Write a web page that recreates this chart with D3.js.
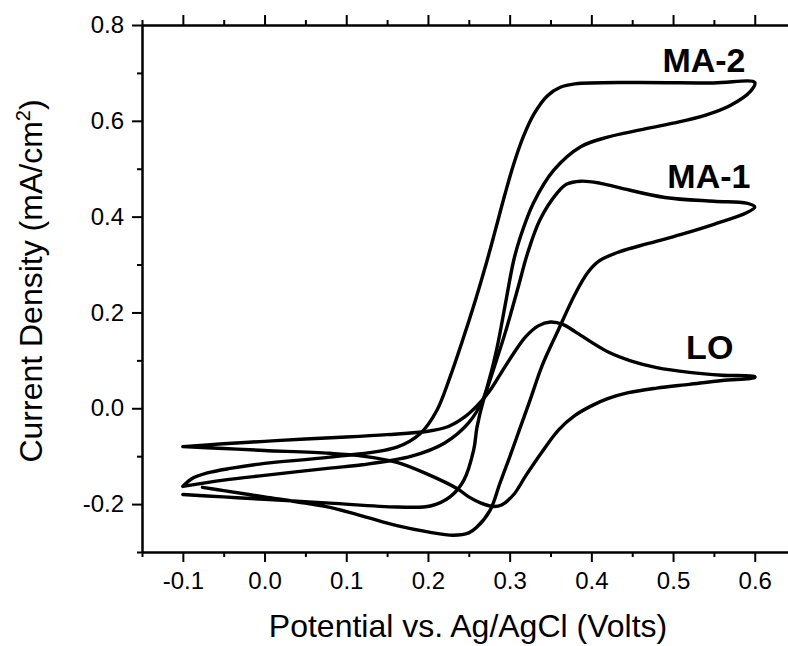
<!DOCTYPE html>
<html>
<head>
<meta charset="utf-8">
<script src="https://cdn.jsdelivr.net/npm/d3@7"></script>
<style>
  html, body { margin: 0; padding: 0; background: #fff; }
  svg { display: block; font-family: "Liberation Sans", Arial, sans-serif; }
</style>
</head>
<body>
<svg id="chart" width="788" height="646"></svg>
<script>
// Cyclic voltammograms: potential (V) vs current density (mA/cm2)
const xMajor = [-0.1, 0.0, 0.1, 0.2, 0.3, 0.4, 0.5, 0.6];
const xMinor = [-0.15, -0.05, 0.05, 0.15, 0.25, 0.35, 0.45, 0.55, 0.65];
const yMajor = [-0.2, 0.0, 0.2, 0.4, 0.6, 0.8];
const yMinor = [-0.3, -0.1, 0.1, 0.3, 0.5, 0.7];

const seriesNames = ["LO", "MA-1", "MA-2"];

// LO loop
const loData = [
  [-0.1, -0.08], [-0.05, -0.074], [0.0, -0.069], [0.05, -0.064], [0.1, -0.06],
  [0.15, -0.055], [0.2, -0.048], [0.225, -0.038], [0.245, -0.018], [0.26, 0.005],
  [0.275, 0.035], [0.29, 0.075], [0.305, 0.115], [0.32, 0.15], [0.335, 0.172],
  [0.35, 0.18], [0.365, 0.175], [0.38, 0.16], [0.4, 0.138], [0.42, 0.118],
  [0.45, 0.098], [0.48, 0.085], [0.52, 0.075], [0.56, 0.069], [0.6, 0.066],
  [0.6, 0.064], [0.56, 0.058], [0.52, 0.05], [0.48, 0.042], [0.444, 0.032],
  [0.42, 0.02], [0.4, 0.005], [0.38, -0.015], [0.36, -0.045], [0.34, -0.09],
  [0.32, -0.14], [0.305, -0.18], [0.29, -0.202], [0.28, -0.205], [0.265, -0.198],
  [0.25, -0.185], [0.236, -0.168], [0.2, -0.138], [0.162, -0.113], [0.12, -0.1],
  [0.08, -0.094], [0.0, -0.088], [-0.05, -0.084], [-0.1, -0.08]
];

// MA-1 loop
const ma1Data = [
  [-0.076, -0.165], [-0.05, -0.172], [0.0, -0.185], [0.05, -0.198], [0.08, -0.207],
  [0.12, -0.225], [0.162, -0.245], [0.2, -0.258], [0.231, -0.265], [0.25, -0.26],
  [0.26, -0.248], [0.276, -0.213], [0.288, -0.157], [0.3, -0.102], [0.313, -0.04],
  [0.325, 0.017], [0.34, 0.09], [0.36, 0.165], [0.38, 0.238], [0.395, 0.282],
  [0.41, 0.308], [0.435, 0.327], [0.47, 0.344], [0.51, 0.363], [0.55, 0.384],
  [0.59, 0.408], [0.6, 0.42], [0.59, 0.428], [0.55, 0.432], [0.49, 0.44],
  [0.435, 0.46], [0.41, 0.47], [0.387, 0.474], [0.37, 0.468], [0.358, 0.449],
  [0.337, 0.393], [0.322, 0.324], [0.31, 0.25], [0.295, 0.16], [0.28, 0.08],
  [0.268, 0.017], [0.26, -0.04], [0.256, -0.087], [0.244, -0.15], [0.227, -0.185],
  [0.203, -0.204], [0.162, -0.206], [0.08, -0.198], [0.0, -0.19], [-0.05, -0.185],
  [-0.1, -0.18]
];

// MA-2 loop
const ma2Data = [
  [-0.1, -0.163], [-0.09, -0.148], [-0.07, -0.135], [-0.04, -0.125], [0.0, -0.115],
  [0.08, -0.102], [0.162, -0.081], [0.191, -0.052], [0.211, -0.004], [0.227, 0.065],
  [0.243, 0.145], [0.258, 0.225], [0.271, 0.3], [0.283, 0.375], [0.294, 0.445],
  [0.305, 0.51], [0.317, 0.568], [0.33, 0.615], [0.346, 0.652], [0.362, 0.67],
  [0.38, 0.677], [0.45, 0.68], [0.55, 0.679], [0.6, 0.68], [0.595, 0.662],
  [0.57, 0.632], [0.54, 0.612], [0.5, 0.595], [0.46, 0.581], [0.42, 0.566],
  [0.387, 0.546], [0.354, 0.497], [0.329, 0.428], [0.313, 0.357], [0.305, 0.309],
  [0.295, 0.22], [0.285, 0.13], [0.275, 0.06], [0.267, 0.017], [0.25, -0.03],
  [0.22, -0.073], [0.18, -0.1], [0.12, -0.118], [0.08, -0.125], [0.0, -0.14],
  [-0.05, -0.15], [-0.1, -0.163]
];

const seriesData = [loData, ma1Data, ma2Data];
// where each name sits (data coords)
const labelPos = [[0.516, 0.103], [0.493, 0.46], [0.487, 0.702]];

const svg = d3.select("#chart");
const plotLeft = 142, plotTop = 25, plotBottom = 552;

const x = d3.scaleLinear().domain([-0.15, 0.65]).range([plotLeft, plotLeft + 0.8 * 817]);
const y = d3.scaleLinear().domain([-0.3, 0.8]).range([plotBottom, plotTop]);

const fmt = (d) => d.toFixed(1); // plain hyphen for negatives

function styleAxis(g) {
  g.select(".domain").attr("stroke", "#000").attr("stroke-width", 2);
  g.selectAll(".tick line").attr("stroke", "#000").attr("stroke-width", 2);
  g.selectAll(".tick text")
    .attr("fill", "#000")
    .style("font-size", "24px")
    .style("font-family", '"Liberation Sans", Arial, sans-serif');
}

// minor ticks first so major ones draw over
svg.append("g")
  .attr("transform", `translate(0,${plotBottom})`)
  .call(d3.axisBottom(x).tickValues(xMinor).tickSize(5).tickSizeOuter(0).tickFormat(""))
  .call(styleAxis);
svg.append("g")
  .attr("transform", `translate(0,${plotBottom})`)
  .call(d3.axisBottom(x).tickValues(xMajor).tickSize(10).tickSizeOuter(0).tickPadding(10).tickFormat(fmt))
  .call(styleAxis);

svg.append("g")
  .attr("transform", `translate(0,${plotTop})`)
  .call(d3.axisTop(x).tickValues(xMinor).tickSize(5).tickSizeOuter(0).tickFormat(""))
  .call(styleAxis);
svg.append("g")
  .attr("transform", `translate(0,${plotTop})`)
  .call(d3.axisTop(x).tickValues(xMajor).tickSize(10).tickSizeOuter(0).tickFormat(""))
  .call(styleAxis);

svg.append("g")
  .attr("transform", `translate(${plotLeft},0)`)
  .call(d3.axisLeft(y).tickValues(yMinor).tickSize(5).tickSizeOuter(0).tickFormat(""))
  .call(styleAxis);
svg.append("g")
  .attr("transform", `translate(${plotLeft},0)`)
  .call(d3.axisLeft(y).tickValues(yMajor).tickSize(10).tickSizeOuter(0).tickPadding(8).tickFormat(fmt))
  .call(styleAxis);

// curves
const line = d3.line()
  .x(d => x(d[0]))
  .y(d => y(d[1]))
  .curve(d3.curveCatmullRom.alpha(0.5));

svg.append("g")
  .selectAll("path")
  .data(seriesData)
  .join("path")
  .attr("d", line)
  .attr("fill", "none")
  .attr("stroke", "#000")
  .attr("stroke-width", 3.4)
  .attr("stroke-linejoin", "round")
  .attr("stroke-linecap", "round");

svg.append("g")
  .selectAll("text")
  .data(seriesNames)
  .join("text")
  .attr("x", (d, i) => x(labelPos[i][0]))
  .attr("y", (d, i) => y(labelPos[i][1]))
  .attr("font-size", 34)
  .attr("font-weight", "bold")
  .attr("fill", "#000")
  .text(d => d);

// axis titles
svg.append("text")
  .attr("x", 468)
  .attr("y", 637)
  .attr("text-anchor", "middle")
  .attr("font-size", 32)
  .attr("fill", "#000")
  .text("Potential vs. Ag/AgCl (Volts)");

const yTitle = svg.append("text")
  .attr("transform", "translate(42,281) rotate(-90)")
  .attr("text-anchor", "middle")
  .attr("font-size", 32)
  .attr("fill", "#000");
yTitle.append("tspan").text("Current Density (mA/cm");
yTitle.append("tspan").attr("font-size", 20).attr("dy", -12).text("2");
yTitle.append("tspan").attr("dy", 12).text(")");
</script>
</body>
</html>
